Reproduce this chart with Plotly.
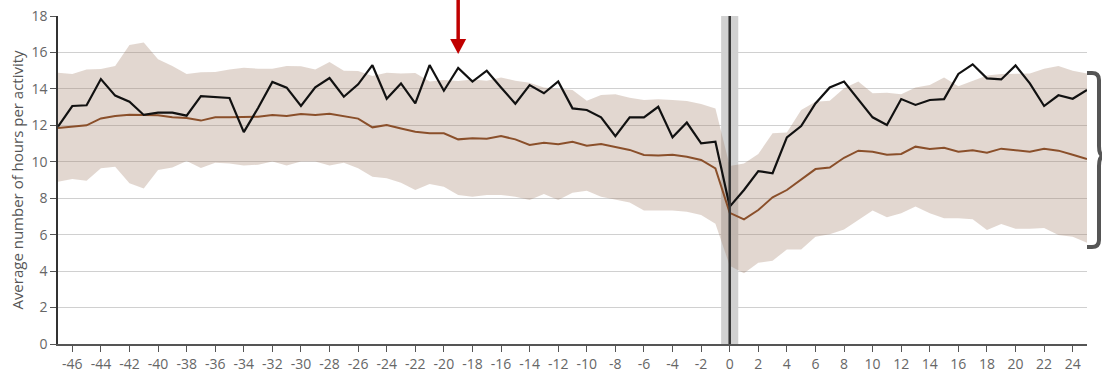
import plotly.graph_objects as go

# Weeks relative to the event (0 = event week)
weeks = list(range(-47, 26))

# Average hours per activity for the highlighted group
group_hours = [
    11.93, 13.06, 13.10, 14.54, 13.63, 13.30, 12.57, 12.70, 12.70, 12.53,
    13.60, 13.55, 13.50, 11.63, 12.95, 14.38, 14.07, 13.06, 14.08, 14.60,
    13.57, 14.25, 15.30, 13.46, 14.30, 13.20, 15.31, 13.90, 15.15, 14.40,
    15.00, 14.08, 13.19, 14.21, 13.76, 14.41, 12.93, 12.84, 12.44, 11.41,
    12.44, 12.44, 13.02, 11.34, 12.15, 11.01, 11.10,
    7.54, 8.45, 9.49, 9.37, 11.34, 11.96, 13.20, 14.08, 14.40, 13.39,
    12.44, 12.02, 13.44, 13.12, 13.39, 13.44, 14.82, 15.35, 14.58, 14.52,
    15.29, 14.30, 13.06, 13.65, 13.46, 13.94,
]

# Average hours per activity across all groups
overall_hours = [
    11.85, 11.94, 12.00, 12.38, 12.51, 12.58, 12.58, 12.55, 12.44, 12.40,
    12.26, 12.44, 12.44, 12.47, 12.47, 12.57, 12.51, 12.62, 12.57, 12.64,
    12.51, 12.37, 11.89, 12.02, 11.83, 11.65, 11.56, 11.56, 11.23, 11.29,
    11.27, 11.41, 11.23, 10.92, 11.05, 10.96, 11.10, 10.88, 10.97, 10.83,
    10.65, 10.37, 10.35, 10.39, 10.28, 10.10, 9.64,
    7.20, 6.84, 7.35, 8.05, 8.45, 9.04, 9.60, 9.68, 10.22, 10.61,
    10.55, 10.39, 10.43, 10.83, 10.70, 10.77, 10.55, 10.63, 10.50, 10.72,
    10.65, 10.55, 10.72, 10.61, 10.39, 10.15,
]

# Spread across all groups: upper and lower bounds
band_upper = [
    14.89, 14.82, 15.07, 15.09, 15.26, 16.41, 16.55, 15.62, 15.26, 14.82,
    14.91, 14.93, 15.07, 15.16, 15.11, 15.11, 15.26, 15.24, 15.07, 15.47,
    15.00, 14.98, 14.71, 14.89, 14.85, 14.87, 14.40, 14.49, 14.43, 14.52,
    14.45, 14.63, 14.45, 14.34, 14.08, 14.03, 13.94, 13.35, 13.66, 13.70,
    13.52, 13.39, 13.43, 13.39, 13.33, 13.17, 12.93,
    9.77, 9.91, 10.43, 11.56, 11.60, 12.84, 13.30, 13.35, 14.03, 14.40,
    13.76, 13.79, 13.70, 14.08, 14.21, 14.63, 14.15, 14.43, 14.74, 14.82,
    14.85, 14.85, 15.11, 15.26, 15.00, 14.85,
]
band_lower = [
    8.91, 9.05, 8.96, 9.64, 9.73, 8.82, 8.54, 9.55, 9.69, 10.04,
    9.66, 9.95, 9.91, 9.79, 9.84, 10.01, 9.79, 10.01, 10.01, 9.79,
    9.95, 9.64, 9.18, 9.09, 8.85, 8.45, 8.78, 8.63, 8.18, 8.08,
    8.18, 8.18, 8.08, 7.90, 8.23, 7.90, 8.30, 8.41, 8.08, 7.90,
    7.76, 7.32, 7.32, 7.32, 7.26, 7.08, 6.60,
    4.30, 3.88, 4.46, 4.57, 5.19, 5.19, 5.89, 6.02, 6.29, 6.80,
    7.32, 6.95, 7.17, 7.54, 7.17, 6.90, 6.90, 6.84, 6.26, 6.58,
    6.33, 6.33, 6.36, 5.98, 5.89, 5.56,
]

highlight_week = -19
event_week = 0

X_RANGE = [-47, 25]
Y_RANGE = [0, 18]
FONT = "Open Sans"

# Plot-area geometry in pixels (page is 1102 x 372)
LEFT, RIGHT, TOP, BOTTOM = 58, 1087, 16, 344


def px_to_paper(px, py):
    return ((px - LEFT) / (RIGHT - LEFT), (BOTTOM - py) / (BOTTOM - TOP))


fig = go.Figure()

fig.add_trace(go.Scatter(
    x=weeks, y=band_lower, mode="lines",
    line=dict(width=0, color="rgba(0,0,0,0)"),
    hoverinfo="skip", showlegend=False,
))
fig.add_trace(go.Scatter(
    x=weeks, y=band_upper, mode="lines", fill="tonexty",
    fillcolor="rgba(158,122,98,0.30)",
    line=dict(width=0, color="rgba(0,0,0,0)"),
    hoverinfo="skip", showlegend=False,
))
fig.add_trace(go.Scatter(
    x=weeks, y=overall_hours, mode="lines",
    line=dict(color="#8a4f2a", width=2),
    showlegend=False,
))
fig.add_trace(go.Scatter(
    x=weeks, y=group_hours, mode="lines",
    line=dict(color="#111111", width=2.2),
    showlegend=False,
))

# Event week marker: soft grey band with a dark centre line
fig.add_shape(type="rect", xref="x", yref="y",
              x0=event_week - 0.6, x1=event_week + 0.6,
              y0=Y_RANGE[0], y1=Y_RANGE[1],
              fillcolor="rgba(0,0,0,0.18)", line=dict(width=0), layer="below")
fig.add_shape(type="line", xref="x", yref="y",
              x0=event_week, x1=event_week, y0=Y_RANGE[0], y1=Y_RANGE[1],
              line=dict(color="#333333", width=2.5), layer="above")

# Red arrow pointing down at the highlighted week (drawn above the plot top)
ax_paper = (highlight_week - X_RANGE[0]) / (X_RANGE[1] - X_RANGE[0])
_, shaft_top = px_to_paper(0, -2)
_, shaft_bot = px_to_paper(0, 42)
_, head_top = px_to_paper(0, 39)
_, head_tip = px_to_paper(0, 54)
half_head = 8 / (RIGHT - LEFT)
fig.add_shape(type="line", xref="paper", yref="paper",
              x0=ax_paper, x1=ax_paper, y0=shaft_top, y1=shaft_bot,
              line=dict(color="#c00000", width=3.5), layer="above")
fig.add_shape(type="path", xref="paper", yref="paper",
              path="M%.5f,%.5f L%.5f,%.5f L%.5f,%.5f Z" % (
                  ax_paper - half_head, head_top,
                  ax_paper + half_head, head_top,
                  ax_paper, head_tip),
              fillcolor="#c00000", line=dict(width=0), layer="above")

# Brace on the right edge of the plot
brace_pts = [
    ("M", [(1087, 73)]),
    ("L", [(1092, 73)]),
    ("Q", [(1099, 73), (1099, 80)]),
    ("L", [(1099, 146)]),
    ("Q", [(1099, 156), (1104, 156)]),
    ("Q", [(1099, 156), (1099, 166)]),
    ("L", [(1099, 240)]),
    ("Q", [(1099, 247), (1092, 247)]),
    ("L", [(1087, 247)]),
]
parts = []
for cmd, pts in brace_pts:
    coords = " ".join("%.5f,%.5f" % px_to_paper(*p) for p in pts)
    parts.append(cmd + coords)
fig.add_shape(type="path", xref="paper", yref="paper",
              path=" ".join(parts),
              line=dict(color="#555555", width=4), layer="above")

fig.update_layout(
    width=1102, height=372,
    margin=dict(l=LEFT, r=1102 - RIGHT, t=TOP, b=372 - BOTTOM, autoexpand=False),
    paper_bgcolor="white", plot_bgcolor="white",
    font=dict(family=FONT, color="#666666", size=14),
    showlegend=False,
)
fig.update_xaxes(
    range=X_RANGE, tickmode="array",
    tickvals=list(range(-46, 26, 2)),
    ticktext=[str(v) for v in range(-46, 26, 2)],
    showgrid=False, zeroline=False, automargin=False,
    showline=True, linecolor="#555555", linewidth=1.5,
    ticks="outside", ticklen=6, tickcolor="#555555", tickwidth=1,
    tickfont=dict(size=14, color="#666666"),
)
fig.update_yaxes(
    range=Y_RANGE, tickmode="array",
    tickvals=list(range(0, 19, 2)),
    showgrid=True, gridcolor="#d0d0d0", gridwidth=1,
    zeroline=False, automargin=False,
    showline=True, linecolor="#333333", linewidth=1.5,
    ticks="outside", ticklen=6, tickcolor="#555555", tickwidth=1,
    tickfont=dict(size=14, color="#666666"),
    title=dict(text="Average number of hours per activity",
               font=dict(size=15, color="#555555"), standoff=4),
)

fig.write_html("out.html")
